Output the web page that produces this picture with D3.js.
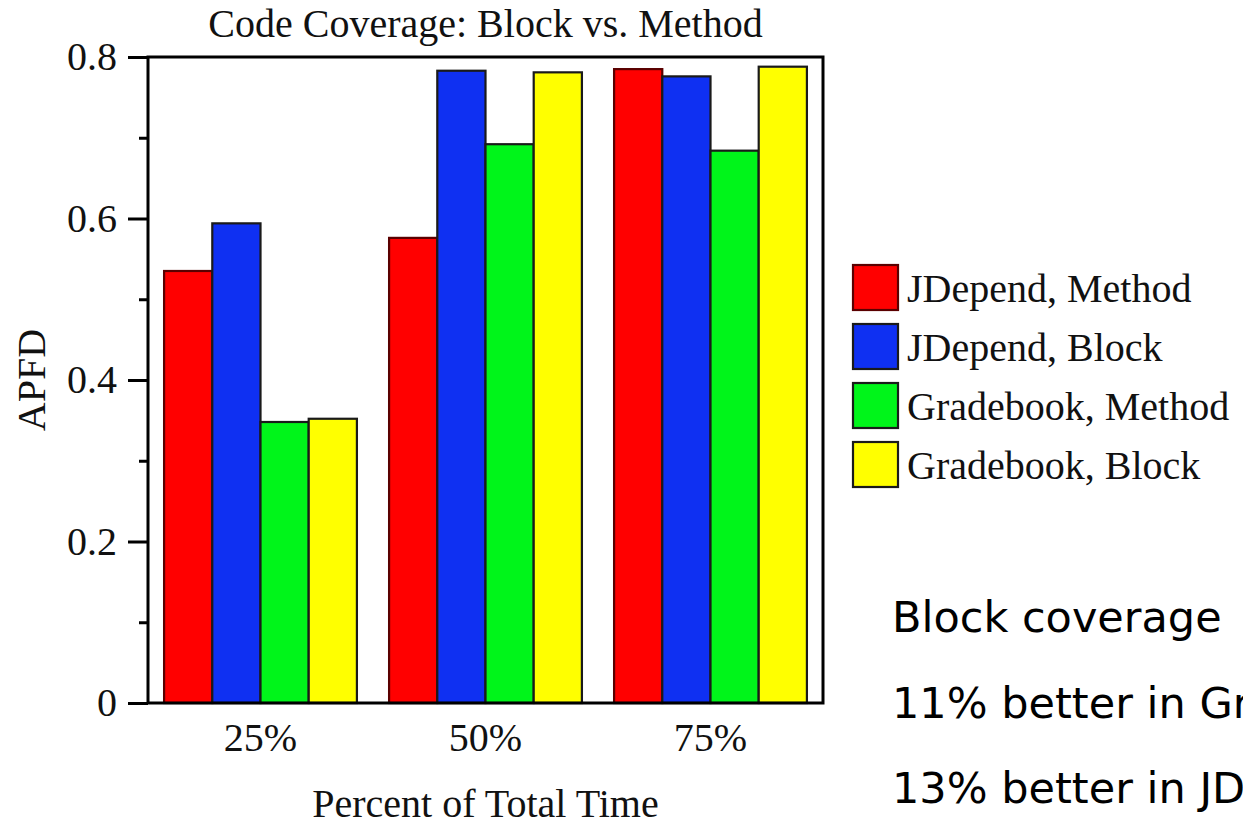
<!DOCTYPE html>
<html>
<head>
<meta charset="utf-8">
<script src="https://cdn.jsdelivr.net/npm/d3@7"></script>
<style>
  html, body { margin: 0; padding: 0; background: #ffffff; }
  svg { display: block; }
</style>
</head>
<body>
<svg id="chart" width="1243" height="827"></svg>
<script>
// ---------------- data ----------------
const categories = ["25%", "50%", "75%"];
const seriesNames = ["JDepend, Method", "JDepend, Block", "Gradebook, Method", "Gradebook, Block"];
const jdependMethod   = [0.535, 0.576, 0.785];
const jdependBlock    = [0.594, 0.783, 0.776];
const gradebookMethod = [0.348, 0.692, 0.684];
const gradebookBlock  = [0.352, 0.781, 0.788];
const seriesColors = ["#ff0000", "#0f30f2", "#00f51a", "#ffff00"];
const majorTicks = [0, 0.2, 0.4, 0.6, 0.8];
const minorTicks = [0.1, 0.3, 0.5, 0.7];
const titleText = "Code Coverage: Block vs. Method";
const xTitle = "Percent of Total Time";
const yTitle = "APFD";
const noteLines = ["Block coverage", "11% better in Gradebook", "13% better in JDepend"];

const series = [jdependMethod, jdependBlock, gradebookMethod, gradebookBlock];

// ---------------- layout ----------------
const serif = "'Liberation Serif', 'Times New Roman', Times, serif";
const sans = "'DejaVu Sans', Verdana, sans-serif";
const plot = { left: 148, right: 823, top: 57, bottom: 703 };

const svg = d3.select("#chart");

const x0 = d3.scaleBand()
  .domain(categories)
  .range([plot.left, plot.right])
  .paddingInner(0.143)
  .paddingOuter(0.0715);

const x1 = d3.scaleBand()
  .domain(d3.range(series.length))
  .range([0, x0.bandwidth()])
  .padding(0);

const y = d3.scaleLinear().domain([0, 0.8]).range([plot.bottom, plot.top]);

// bars
const groups = svg.append("g").selectAll("g")
  .data(categories)
  .join("g")
  .attr("transform", d => `translate(${x0(d)},0)`);

groups.selectAll("rect")
  .data((d, i) => series.map((s, k) => ({ k, v: s[i] })))
  .join("rect")
  .attr("x", d => x1(d.k))
  .attr("y", d => y(d.v))
  .attr("width", x1.bandwidth())
  .attr("height", d => y(0) - y(d.v))
  .attr("fill", d => seriesColors[d.k])
  .attr("stroke", d => d.k === 0 ? "#5a0000" : "#1a1a1a")
  .attr("stroke-width", 2.2);

// y axis: major ticks
const yAxis = svg.append("g")
  .attr("transform", `translate(${plot.left},0)`)
  .call(d3.axisLeft(y).tickValues(majorTicks).tickSize(20).tickPadding(11)
    .tickFormat(d => d === 0 ? "0" : d3.format(".1f")(d)));
yAxis.select(".domain").remove();
yAxis.selectAll(".tick line").attr("stroke", "#000").attr("stroke-width", 3);
yAxis.selectAll(".tick text")
  .attr("font-family", serif).attr("font-size", 40).attr("fill", "#111");

// y axis: minor ticks
const yMinor = svg.append("g")
  .attr("transform", `translate(${plot.left},0)`)
  .call(d3.axisLeft(y).tickValues(minorTicks).tickSize(9).tickFormat(""));
yMinor.select(".domain").remove();
yMinor.selectAll(".tick line").attr("stroke", "#000").attr("stroke-width", 3);

// x axis labels
const xAxis = svg.append("g")
  .attr("transform", `translate(0,${plot.bottom})`)
  .call(d3.axisBottom(x0).tickSize(0).tickPadding(20));
xAxis.select(".domain").remove();
xAxis.selectAll(".tick text")
  .attr("font-family", serif).attr("font-size", 40).attr("fill", "#111")
  .attr("dy", "0.71em");

// frame
svg.append("rect")
  .attr("x", plot.left).attr("y", plot.top)
  .attr("width", plot.right - plot.left).attr("height", plot.bottom - plot.top)
  .attr("fill", "none").attr("stroke", "#000").attr("stroke-width", 3);

// title
svg.append("text")
  .attr("x", (plot.left + plot.right) / 2).attr("y", 37)
  .attr("text-anchor", "middle")
  .attr("font-family", serif).attr("font-size", 40).attr("fill", "#111")
  .text(titleText);

// axis titles
svg.append("text")
  .attr("x", (plot.left + plot.right) / 2).attr("y", 817)
  .attr("text-anchor", "middle")
  .attr("font-family", serif).attr("font-size", 40).attr("fill", "#111")
  .text(xTitle);

svg.append("text")
  .attr("transform", `translate(45,${(plot.top + plot.bottom) / 2}) rotate(-90)`)
  .attr("text-anchor", "middle")
  .attr("font-family", serif).attr("font-size", 40).attr("fill", "#111")
  .text(yTitle);

// legend
const legend = svg.append("g").attr("transform", "translate(853,265)");
const legItems = legend.selectAll("g")
  .data(seriesNames)
  .join("g")
  .attr("transform", (d, i) => `translate(0,${i * 59})`);
legItems.append("rect")
  .attr("x", 0).attr("y", 0).attr("width", 45).attr("height", 45)
  .attr("fill", (d, i) => seriesColors[i])
  .attr("stroke", (d, i) => i === 0 ? "#5a0000" : "#1a1a1a")
  .attr("stroke-width", 2.2);
legItems.append("text")
  .attr("x", 54).attr("y", 37)
  .attr("font-family", serif).attr("font-size", 40).attr("fill", "#111")
  .text(d => d);

// note text (runs past the right edge, as in the reference)
svg.append("g").selectAll("text")
  .data(noteLines)
  .join("text")
  .attr("x", 892)
  .attr("y", (d, i) => 632 + i * 85.5)
  .attr("font-family", sans).attr("font-size", 43).attr("fill", "#000")
  .text(d => d);
</script>
</body>
</html>
